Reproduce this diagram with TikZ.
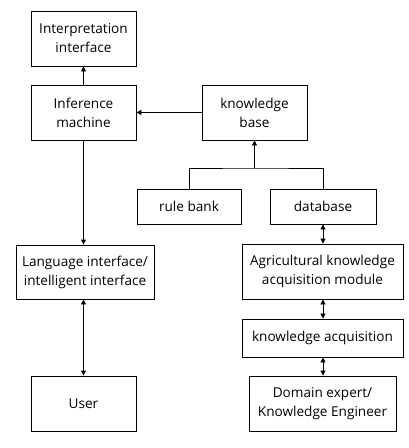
\documentclass[tikz,border=0pt]{standalone}
\usepackage{fontspec}
\setmainfont{Open Sans}
\usetikzlibrary{arrows.meta}
\begin{document}
\begin{tikzpicture}[x=1pt,y=-1pt,
  box/.style={draw=black, line width=0.9pt, align=center, inner sep=0pt,
    font=\fontsize{13.6}{19}\selectfont},
  arr/.style={line width=0.9pt, -{Triangle[length=5pt,width=5pt]}},
  ln/.style={line width=0.9pt},
  darr/.style={line width=0.9pt, {Triangle[length=5pt,width=5pt]}-{Triangle[length=5pt,width=5pt]}}]
\useasboundingbox (0,0) rectangle (409,448);
\node[box, minimum width=105pt, minimum height=55pt] (interp) at (83.5,38.5) {Interpretation\\interface};
\node[box, minimum width=105pt, minimum height=55pt] (infer) at (83.5,112.5) {Inference\\machine};
\node[box, minimum width=105pt, minimum height=55pt] (kb) at (254.5,112.5) {knowledge\\base};
\node[box, minimum width=104pt, minimum height=35pt] (rule) at (189,206.5) {rule bank};
\node[box, minimum width=106pt, minimum height=35pt] (db) at (323,206.5) {database};
\node[box, minimum width=138pt, minimum height=54pt] (lang) at (85,272) {Language interface/\\intelligent interface};
\node[box, minimum width=105pt, minimum height=55pt] (user) at (83.5,403.5) {User};
\node[box, minimum width=161pt, minimum height=55pt] (agri) at (322.5,271.5) {Agricultural knowledge\\acquisition module};
\node[box, minimum width=161pt, minimum height=38pt] (kacq) at (322.5,338) {knowledge acquisition};
\node[box, minimum width=147pt, minimum height=55pt] (dom) at (322.5,403.5) {Domain expert/\\Knowledge Engineer};
\coordinate (j) at (254.5,168);
\draw[arr] (infer) -- (interp);
\draw[arr] (kb) -- (infer);
\draw[arr] (infer.south) -- (infer.south |- lang.north);
\draw[darr] (infer.south |- lang.south) -- (infer.south |- user.north);
\draw[ln] (rule.north) |- (j) -| (db.north);
\draw[arr] (j) -- (kb.south);
\draw[darr] (db) -- (db |- agri.north);
\draw[darr] (db |- agri.south) -- (db |- kacq.north);
\draw[darr] (db |- kacq.south) -- (db |- dom.north);
\end{tikzpicture}
\end{document}
